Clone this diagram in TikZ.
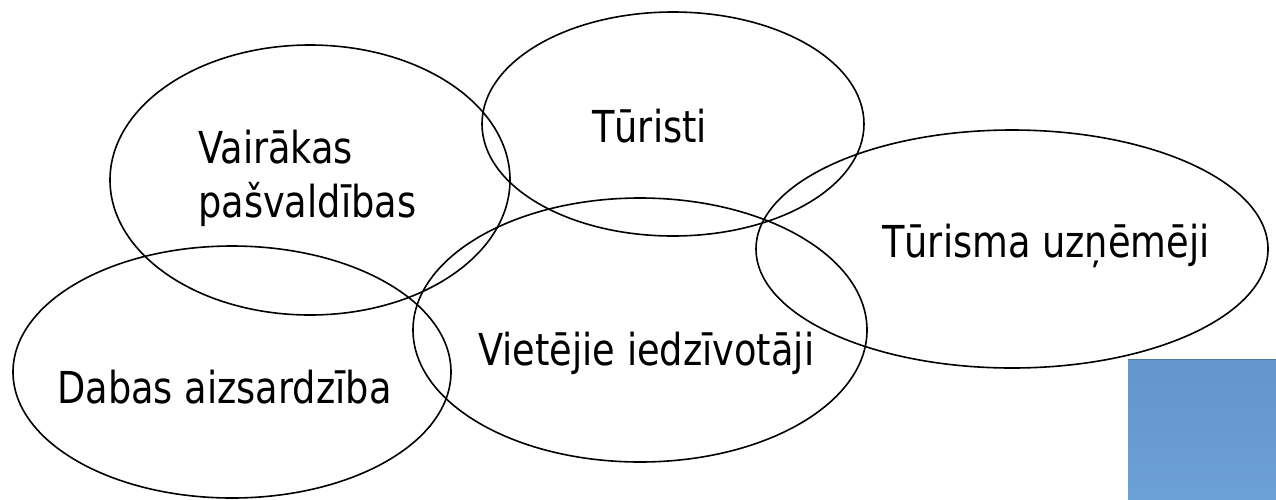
\documentclass[tikz,border=0pt]{standalone}
\usepackage{fontspec}
\setmainfont[FakeStretch=0.835]{DejaVu Sans}
\usetikzlibrary{shapes.geometric}
\definecolor{slideblue}{RGB}{100,149,204}
\definecolor{slideblue2}{RGB}{107,160,214}
\tikzset{
bubble/.style={ellipse, draw, line width=1.6pt, inner sep=0pt},
caption/.style={anchor=base west, inner sep=0pt, font=\fontsize{44}{54}\selectfont}
}

\begin{document}
\begin{tikzpicture}[x=1pt,y=-1pt]
\useasboundingbox (0,0) rectangle (1276,499);

\node[bubble, minimum width=400pt, minimum height=270pt] (vairakas) at (310,180) {};
\node[bubble, minimum width=382pt, minimum height=224pt] (turisti) at (673,124) {};
\node[bubble, minimum width=512pt, minimum height=238pt] (uznemeji) at (1012,249) {};
\node[bubble, minimum width=454pt, minimum height=264pt] (iedzivotaji) at (640,330) {};
\node[bubble, minimum width=438pt, minimum height=252pt] (daba) at (232,372) {};

\node[caption] (vairakasA) at (198,163) {Vairākas};
\node[caption] (vairakasB) at (198,217) {pašvaldības};
\node[caption] (turistiT) at (592,142) {Tūristi};
\node[caption] (uznemejiT) at (882,257) {Tūrisma uzņēmēji};
\node[caption] (iedzivotajiT) at (478,365) {Vietējie iedzīvotāji};
\node[caption] (dabaT) at (57,403) {Dabas aizsardzība};

\fill[top color=slideblue, bottom color=slideblue2] (1128,359) rectangle (1276,499);
\draw[line width=1.2pt, slideblue!80!black] (1128,359.6) -- (1276,359.6);

\end{tikzpicture}
\end{document}
